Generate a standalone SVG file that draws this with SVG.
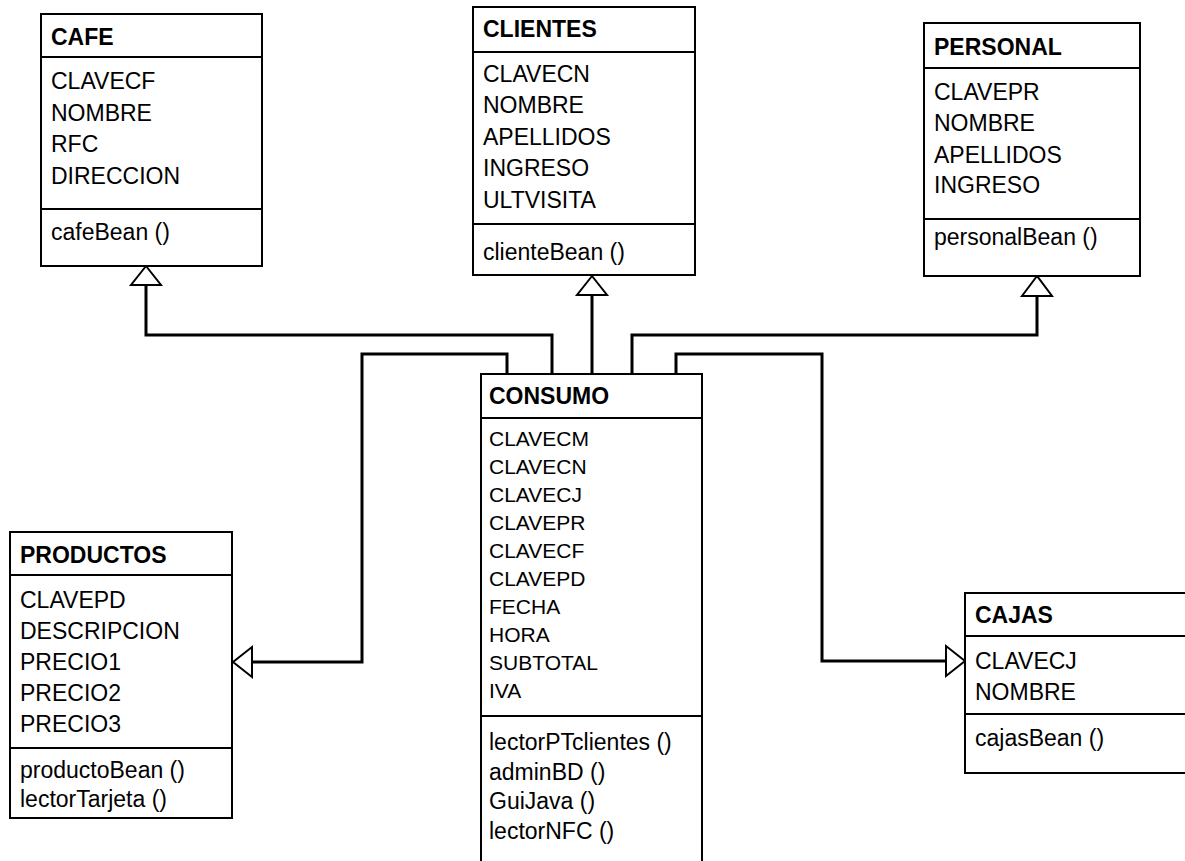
<svg xmlns="http://www.w3.org/2000/svg" width="1185" height="861" viewBox="0 0 1185 861">
  <style>
    .box { fill: #ffffff; stroke: #000000; stroke-width: 2; }
    .sep { stroke: #000000; stroke-width: 2; }
    .title { font-family: "Liberation Sans", Arial, sans-serif; font-size: 23px; font-weight: bold; fill: #000000; }
    .attr { font-family: "Liberation Sans", Arial, sans-serif; font-size: 23px; fill: #000000; }
    .attr-sm { font-family: "Liberation Sans", Arial, sans-serif; font-size: 21px; fill: #000000; }
    .wire { fill: none; stroke: #000000; stroke-width: 3; stroke-linejoin: miter; }
    .head { fill: #ffffff; stroke: #000000; stroke-width: 2; stroke-linejoin: miter; }
  </style>
  <rect width="1185" height="861" fill="#ffffff"/>

  <!-- generalisation connectors -->
  <g id="connectors">
    <polyline class="wire" points="552,374 552,335 146,335 146,285"/>
    <polygon class="head" points="146,266 131,285 161,285"/>

    <polyline class="wire" points="592,374 592,295"/>
    <polygon class="head" points="592,276 577,295 607,295"/>

    <polyline class="wire" points="632,374 632,335 1037,335 1037,296"/>
    <polygon class="head" points="1037,276 1022,296 1052,296"/>

    <polyline class="wire" points="507,374 507,354 362,354 362,662 252,662"/>
    <polygon class="head" points="233,662 252,647 252,677"/>

    <polyline class="wire" points="676,374 676,354 822,354 822,661 946,661"/>
    <polygon class="head" points="965,661 946,646 946,676"/>
  </g>

  <!-- CAFE -->
  <g id="cafe">
    <rect class="box" x="41" y="14" width="221" height="252"/>
    <line class="sep" x1="41" y1="57" x2="262" y2="57"/>
    <line class="sep" x1="41" y1="209" x2="262" y2="209"/>
    <text class="title" x="51" y="45">CAFE</text>
    <text class="attr" x="51" y="89">CLAVECF</text>
    <text class="attr" x="51" y="120.5">NOMBRE</text>
    <text class="attr" x="51" y="152">RFC</text>
    <text class="attr" x="51" y="183.5">DIRECCION</text>
    <text class="attr" x="51" y="240">cafeBean ()</text>
  </g>

  <!-- CLIENTES -->
  <g id="clientes">
    <rect class="box" x="473" y="7" width="222" height="268"/>
    <line class="sep" x1="473" y1="52" x2="695" y2="52"/>
    <line class="sep" x1="473" y1="224" x2="695" y2="224"/>
    <text class="title" x="483" y="37">CLIENTES</text>
    <text class="attr" x="483" y="81.5">CLAVECN</text>
    <text class="attr" x="483" y="113">NOMBRE</text>
    <text class="attr" x="483" y="144.5">APELLIDOS</text>
    <text class="attr" x="483" y="176">INGRESO</text>
    <text class="attr" x="483" y="207.5">ULTVISITA</text>
    <text class="attr" x="483" y="260">clienteBean ()</text>
  </g>

  <!-- PERSONAL -->
  <g id="personal">
    <rect class="box" x="924" y="23" width="216" height="253"/>
    <line class="sep" x1="924" y1="68" x2="1140" y2="68"/>
    <line class="sep" x1="924" y1="219" x2="1140" y2="219"/>
    <text class="title" x="934" y="55">PERSONAL</text>
    <text class="attr" x="934" y="99.5">CLAVEPR</text>
    <text class="attr" x="934" y="131">NOMBRE</text>
    <text class="attr" x="934" y="162.5">APELLIDOS</text>
    <text class="attr" x="934" y="193">INGRESO</text>
    <text class="attr" x="934" y="245">personalBean ()</text>
  </g>

  <!-- CONSUMO -->
  <g id="consumo">
    <rect class="box" x="481" y="374" width="221" height="500"/>
    <line class="sep" x1="481" y1="418" x2="702" y2="418"/>
    <line class="sep" x1="481" y1="716" x2="702" y2="716"/>
    <text class="title" x="489" y="404">CONSUMO</text>
    <text class="attr-sm" x="489" y="446">CLAVECM</text>
    <text class="attr-sm" x="489" y="474">CLAVECN</text>
    <text class="attr-sm" x="489" y="502">CLAVECJ</text>
    <text class="attr-sm" x="489" y="530">CLAVEPR</text>
    <text class="attr-sm" x="489" y="558">CLAVECF</text>
    <text class="attr-sm" x="489" y="586">CLAVEPD</text>
    <text class="attr-sm" x="489" y="614">FECHA</text>
    <text class="attr-sm" x="489" y="642">HORA</text>
    <text class="attr-sm" x="489" y="670">SUBTOTAL</text>
    <text class="attr-sm" x="489" y="698">IVA</text>
    <text class="attr" x="489" y="750">lectorPTclientes ()</text>
    <text class="attr" x="489" y="779.5">adminBD ()</text>
    <text class="attr" x="489" y="809">GuiJava ()</text>
    <text class="attr" x="489" y="838.5">lectorNFC ()</text>
  </g>

  <!-- PRODUCTOS -->
  <g id="productos">
    <rect class="box" x="10" y="532" width="222" height="286"/>
    <line class="sep" x1="10" y1="575" x2="232" y2="575"/>
    <line class="sep" x1="10" y1="748" x2="232" y2="748"/>
    <text class="title" x="20" y="563">PRODUCTOS</text>
    <text class="attr" x="20" y="607.5">CLAVEPD</text>
    <text class="attr" x="20" y="638.5">DESCRIPCION</text>
    <text class="attr" x="20" y="669.5">PRECIO1</text>
    <text class="attr" x="20" y="700.5">PRECIO2</text>
    <text class="attr" x="20" y="731.5">PRECIO3</text>
    <text class="attr" x="20" y="778">productoBean ()</text>
    <text class="attr" x="20" y="807">lectorTarjeta ()</text>
  </g>

  <!-- CAJAS -->
  <g id="cajas">
    <rect class="box" x="965" y="593" width="240" height="180"/>
    <line class="sep" x1="965" y1="636" x2="1200" y2="636"/>
    <line class="sep" x1="965" y1="714" x2="1200" y2="714"/>
    <text class="title" x="975" y="623">CAJAS</text>
    <text class="attr" x="975" y="668.5">CLAVECJ</text>
    <text class="attr" x="975" y="699.5">NOMBRE</text>
    <text class="attr" x="975" y="746">cajasBean ()</text>
  </g>
</svg>
